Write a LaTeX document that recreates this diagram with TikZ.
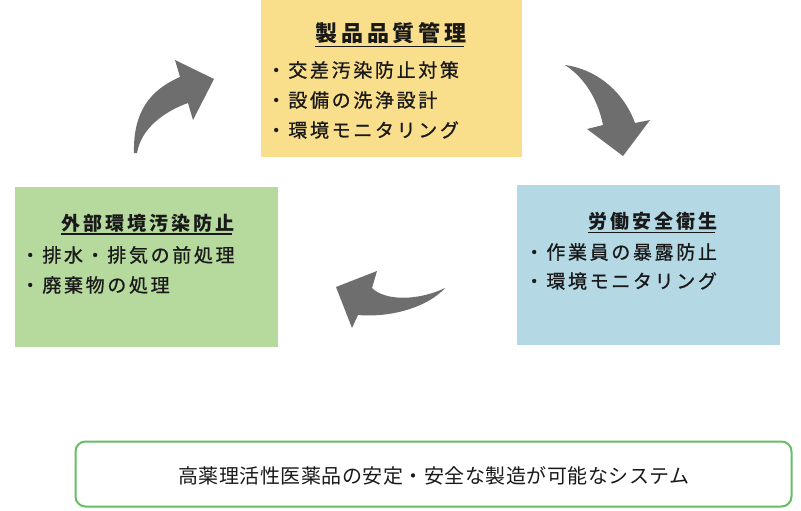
\documentclass[tikz,border=0pt]{standalone}
\usepackage{fontspec}
\newfontfamily\jp{Noto Sans CJK JP}
\definecolor{boxyellow}{RGB}{249,223,140}
\definecolor{boxgreen}{RGB}{182,217,158}
\definecolor{boxblue}{RGB}{180,216,228}
\definecolor{arrowgray}{RGB}{110,110,110}
\definecolor{linegreen}{RGB}{100,190,100}
\definecolor{txtcol}{RGB}{25,25,25}
\tikzset{
  panel/.style={inner sep=0pt, outer sep=0pt, draw=none},
  ttlbig/.style={inner sep=0pt, text=txtcol, font=\jp\bfseries\fontsize{22}{22}\selectfont\addfontfeature{LetterSpace=17}},
  ttl/.style={inner sep=0pt, text=txtcol, font=\jp\bfseries\fontsize{19}{19}\selectfont\addfontfeature{LetterSpace=16}},
  bullet/.style={inner sep=0pt, anchor=west, text=txtcol, font=\jp\fontsize{19}{19}\selectfont\addfontfeature{LetterSpace=14,FakeBold=0.8}},
  goal/.style={inner sep=0pt, text=txtcol, font=\jp\fontsize{20}{20}\selectfont\addfontfeature{LetterSpace=2.5}},
  uline/.style={draw=txtcol, line width=1.4pt},
  blockarrow/.style={fill=arrowgray, draw=none}
}
\begin{document}
\begin{tikzpicture}[x=1pt,y=-1pt]
\useasboundingbox[fill=white] (0,0) rectangle (801,511);

% panels
\node[panel, fill=boxyellow, minimum width=261pt, minimum height=157pt] (quality) at (391.5,78.5) {};
\node[panel, fill=boxgreen, minimum width=263pt, minimum height=160pt] (envir) at (146.5,267) {};
\node[panel, fill=boxblue, minimum width=263pt, minimum height=160pt] (safety) at (648.5,265) {};
\node[panel, draw=linegreen, line width=2pt, rounded corners=10pt, fill=white,
      minimum width=716pt, minimum height=65pt] (system) at (433.5,474) {};

% top panel texts
\node[ttlbig] (qt) at (391,33) {製品品質管理};
\draw[uline] ([yshift=-2.5pt]qt.south west) -- ([yshift=-2.5pt,xshift=-3pt]qt.south east);
\node[bullet] (q1) at (266.5,70) {・交差汚染防止対策};
\node[bullet] (q2) at (266.5,100) {・設備の洗浄設計};
\node[bullet] (q3) at (266.5,130) {・環境モニタリング};

% left panel texts
\node[ttl] (et) at (148,223) {外部環境汚染防止};
\draw[uline] ([yshift=-1.8pt]et.south west) -- ([yshift=-1.8pt,xshift=-2.5pt]et.south east);
\node[bullet] (e1) at (20.5,255) {・排水・排気の前処理};
\node[bullet] (e2) at (20.5,285) {・廃棄物の処理};

% right panel texts
\node[ttl] (st) at (653,221.5) {労働安全衛生};
\draw[uline] ([yshift=-1.8pt]st.south west) -- ([yshift=-1.8pt,xshift=-2.5pt]st.south east);
\node[bullet] (s1) at (524.5,252) {・作業員の暴露防止};
\node[bullet] (s2) at (524.5,281) {・環境モニタリング};

% bottom text
\node[goal] (gt) at (434,476) {高薬理活性医薬品の安定・安全な製造が可能なシステム};

% curved block arrows
\fill[blockarrow] (134,153) .. controls (133,112) and (150,90) .. (180,77)
  -- (175,60) -- (214,79) -- (193,120) -- (188,103)
  .. controls (163,112) and (141,129) .. (137,153) -- cycle;
\fill[blockarrow] (565,65) .. controls (600,70) and (625,95) .. (635,123)
  -- (650,120) -- (623,156) -- (587,129) -- (603,125)
  .. controls (598,100) and (585,78) .. (565,65) -- cycle;
\fill[blockarrow] (336,287) -- (377,271) -- (372,288)
  .. controls (385,301) and (418,301) .. (445,288)
  .. controls (430,305) and (395,318) .. (358,315)
  -- (352,328) -- cycle;
\end{tikzpicture}
\end{document}
